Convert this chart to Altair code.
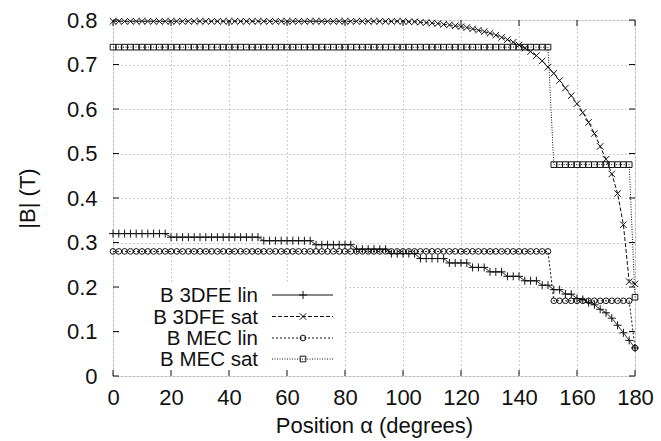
import altair as alt
import pandas as pd

# ---------------- data ----------------
alpha_deg = [0, 2, 4, 6, 8, 10, 12, 14, 16, 18,
             20, 22, 24, 26, 28, 30, 32, 34, 36, 38,
             40, 42, 44, 46, 48, 50, 52, 54, 56, 58,
             60, 62, 64, 66, 68, 70, 72, 74, 76, 78,
             80, 82, 84, 86, 88, 90, 92, 94, 96, 98,
             100, 102, 104, 106, 108, 110, 112, 114, 116, 118,
             120, 122, 124, 126, 128, 130, 132, 134, 136, 138,
             140, 142, 144, 146, 148, 150, 152, 154, 156, 158,
             160, 162, 164, 166, 168, 170, 172, 174, 176, 178,
             180]

b_3dfe_lin = [0.320, 0.320, 0.320, 0.320, 0.320, 0.320, 0.320, 0.320, 0.320, 0.320,
              0.312, 0.312, 0.312, 0.312, 0.312, 0.312, 0.312, 0.312, 0.312, 0.312,
              0.312, 0.312, 0.312, 0.312, 0.312, 0.312, 0.304, 0.304, 0.304, 0.304,
              0.304, 0.304, 0.304, 0.304, 0.304, 0.295, 0.295, 0.295, 0.295, 0.295,
              0.295, 0.295, 0.285, 0.285, 0.285, 0.285, 0.285, 0.285, 0.275, 0.275,
              0.275, 0.275, 0.275, 0.264, 0.264, 0.264, 0.264, 0.264, 0.254, 0.254,
              0.254, 0.254, 0.244, 0.244, 0.244, 0.234, 0.234, 0.234, 0.224, 0.224,
              0.224, 0.214, 0.214, 0.214, 0.204, 0.204, 0.194, 0.194, 0.184, 0.184,
              0.174, 0.172, 0.165, 0.160, 0.150, 0.142, 0.130, 0.114, 0.097, 0.080,
              0.063]

b_3dfe_sat = [0.797, 0.797, 0.797, 0.797, 0.797, 0.797, 0.797, 0.797, 0.797, 0.797,
              0.797, 0.797, 0.797, 0.797, 0.797, 0.797, 0.797, 0.797, 0.797, 0.797,
              0.797, 0.797, 0.797, 0.797, 0.797, 0.797, 0.797, 0.797, 0.797, 0.797,
              0.797, 0.797, 0.797, 0.797, 0.797, 0.797, 0.797, 0.797, 0.797, 0.797,
              0.797, 0.797, 0.797, 0.797, 0.797, 0.797, 0.797, 0.797, 0.797, 0.797,
              0.797, 0.796, 0.796, 0.795, 0.794, 0.793, 0.792, 0.790, 0.789, 0.787,
              0.785, 0.783, 0.780, 0.777, 0.774, 0.770, 0.766, 0.761, 0.756, 0.750,
              0.744, 0.737, 0.729, 0.720, 0.708, 0.694, 0.680, 0.664, 0.647, 0.630,
              0.612, 0.592, 0.570, 0.545, 0.516, 0.487, 0.454, 0.410, 0.340, 0.212,
              0.207]

b_mec_lin = [0.280, 0.280, 0.280, 0.280, 0.280, 0.280, 0.280, 0.280, 0.280, 0.280,
             0.280, 0.280, 0.280, 0.280, 0.280, 0.280, 0.280, 0.280, 0.280, 0.280,
             0.280, 0.280, 0.280, 0.280, 0.280, 0.280, 0.280, 0.280, 0.280, 0.280,
             0.280, 0.280, 0.280, 0.280, 0.280, 0.280, 0.280, 0.280, 0.280, 0.280,
             0.280, 0.280, 0.280, 0.280, 0.280, 0.280, 0.280, 0.280, 0.280, 0.280,
             0.280, 0.280, 0.280, 0.280, 0.280, 0.280, 0.280, 0.280, 0.280, 0.280,
             0.280, 0.280, 0.280, 0.280, 0.280, 0.280, 0.280, 0.280, 0.280, 0.280,
             0.280, 0.280, 0.280, 0.280, 0.280, 0.280, 0.169, 0.169, 0.169, 0.169,
             0.169, 0.169, 0.169, 0.169, 0.169, 0.169, 0.169, 0.169, 0.169, 0.169,
             0.063]

b_mec_sat = [0.739, 0.739, 0.739, 0.739, 0.739, 0.739, 0.739, 0.739, 0.739, 0.739,
             0.739, 0.739, 0.739, 0.739, 0.739, 0.739, 0.739, 0.739, 0.739, 0.739,
             0.739, 0.739, 0.739, 0.739, 0.739, 0.739, 0.739, 0.739, 0.739, 0.739,
             0.739, 0.739, 0.739, 0.739, 0.739, 0.739, 0.739, 0.739, 0.739, 0.739,
             0.739, 0.739, 0.739, 0.739, 0.739, 0.739, 0.739, 0.739, 0.739, 0.739,
             0.739, 0.739, 0.739, 0.739, 0.739, 0.739, 0.739, 0.739, 0.739, 0.739,
             0.739, 0.739, 0.739, 0.739, 0.739, 0.739, 0.739, 0.739, 0.739, 0.739,
             0.739, 0.739, 0.739, 0.739, 0.739, 0.739, 0.475, 0.475, 0.475, 0.475,
             0.475, 0.475, 0.475, 0.475, 0.475, 0.475, 0.475, 0.475, 0.475, 0.475,
             0.177]

series_names = ["B 3DFE lin", "B 3DFE sat", "B MEC lin", "B MEC sat"]
series_values = [b_3dfe_lin, b_3dfe_sat, b_mec_lin, b_mec_sat]

x_ticks = [0, 20, 40, 60, 80, 100, 120, 140, 160, 180]
y_ticks = [0, 0.1, 0.2, 0.3, 0.4, 0.5, 0.6, 0.7, 0.8]

# ---------------- styles ----------------
W, H = 522, 356
FONT = "Liberation Sans"
FS = 22
LEG_FS = 20.5
PLUS = "M-1,0L1,0M0,-1L0,1"
CROSS = "M-1,-1L1,1M-1,1L1,-1"
styles = {
    "B 3DFE lin": dict(dash=[1, 0], shape=PLUS, size=64),
    "B 3DFE sat": dict(dash=[4, 2], shape=CROSS, size=42),
    "B MEC lin": dict(dash=[2, 2], shape="circle", size=32),
    "B MEC sat": dict(dash=[1, 1.5], shape="square", size=32),
}

xs = alt.Scale(domain=[0, 180], nice=False, zero=False)
ys = alt.Scale(domain=[0, 0.8], nice=False)

x_axis = alt.Axis(values=x_ticks, title="Position α (degrees)", grid=True,
                  gridDash=[1, 3], gridColor="#9a9a9a", gridWidth=1,
                  ticks=False, domain=False, labelPadding=11, titlePadding=7,
                  labelFontSize=FS, titleFontSize=FS, labelColor="#111",
                  titleColor="#111", titleFontWeight="normal", labelFlush=False)
y_axis = alt.Axis(values=y_ticks, title="|B| (T)", grid=True,
                  gridDash=[1, 3], gridColor="#9a9a9a", gridWidth=1,
                  ticks=False, domain=False, labelPadding=16, titlePadding=27,
                  labelFontSize=FS, titleFontSize=FS, labelColor="#111",
                  titleColor="#111", titleFontWeight="normal", labelFlush=False,
                  labelExpr="datum.value == 0 ? '0' : format(datum.value, '.1f')")


def X(field):
    return alt.X(field, scale=xs, axis=x_axis)


def Y(field):
    return alt.Y(field, scale=ys, axis=y_axis)


layers = []
for name, vals in zip(series_names, series_values):
    df = pd.DataFrame({"alpha": alpha_deg, "B": vals})
    st = styles[name]
    layers.append(alt.Chart(df).mark_line(color="#111", strokeWidth=1,
                                          strokeDash=st["dash"]).encode(
        x=X("alpha:Q"), y=Y("B:Q")))
    layers.append(alt.Chart(df).mark_point(shape=st["shape"], filled=False,
                                           color="#111", strokeWidth=1,
                                           size=st["size"], opacity=1).encode(
        x=X("alpha:Q"), y=Y("B:Q")))

# legend (gnuplot style: label on the left, sample on the right) on a white box
box = alt.Chart(pd.DataFrame({"k": [0]})).mark_rect(color="white").encode(
    x=alt.value(7), x2=alt.value(230), y=alt.value(264), y2=alt.value(354))
layers.append(box)
row_y = [275, 296.5, 318, 339]
for name, yy in zip(series_names, row_y):
    st = styles[name]
    d = pd.DataFrame({"label": [name]})
    layers.append(alt.Chart(d).mark_text(align="right", baseline="middle",
                                         font=FONT, fontSize=LEG_FS, color="#111").encode(
        text="label:N", x=alt.value(145), y=alt.value(yy + 1)))
    layers.append(alt.Chart(d).mark_rule(color="#111", strokeWidth=1,
                                         strokeDash=st["dash"]).encode(
        x=alt.value(159), x2=alt.value(220), y=alt.value(yy)))
    layers.append(alt.Chart(d).mark_point(shape=st["shape"], filled=False,
                                          color="#111", strokeWidth=1,
                                          size=st["size"], opacity=1).encode(
        x=alt.value(190), y=alt.value(yy)))

# inward tick marks on all four sides
xt = pd.DataFrame({"t": x_ticks})
yt = pd.DataFrame({"t": y_ticks})
layers.append(alt.Chart(xt).mark_rule(color="#111", strokeWidth=1).encode(
    x=X("t:Q"), y=alt.value(H), y2=alt.value(H - 6)))
layers.append(alt.Chart(xt).mark_rule(color="#111", strokeWidth=1).encode(
    x=X("t:Q"), y=alt.value(0), y2=alt.value(6)))
layers.append(alt.Chart(yt).mark_rule(color="#111", strokeWidth=1).encode(
    y=Y("t:Q"), x=alt.value(0), x2=alt.value(6)))
layers.append(alt.Chart(yt).mark_rule(color="#111", strokeWidth=1).encode(
    y=Y("t:Q"), x=alt.value(W), x2=alt.value(W - 6)))

chart = alt.layer(*layers).properties(
    width=W, height=H,
    padding={"left": 113, "top": 20, "right": 26, "bottom": 65},
    autosize=alt.AutoSizeParams(type="none"),
).configure_view(stroke="#111", strokeWidth=1.2).configure_axis(
    labelFont=FONT, titleFont=FONT
).configure(background="white")

chart.save("out.html", embed_options={"renderer": "svg", "actions": False})
